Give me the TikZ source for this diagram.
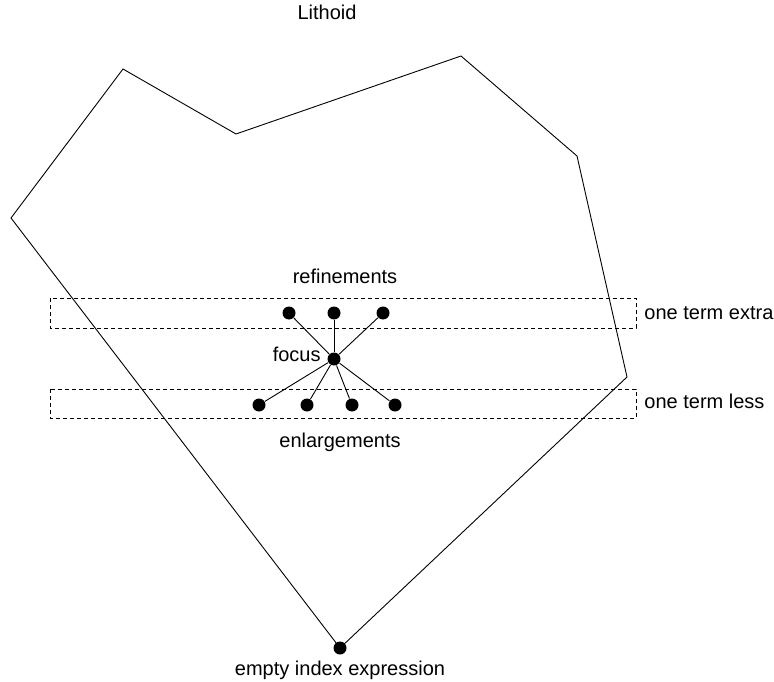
\documentclass[tikz,border=0pt]{standalone}
\usepackage{fontspec}
\setmainfont{Liberation Sans}
\tikzset{
	dot/.style = {circle, fill, inner sep = 0pt, minimum size = 13pt},
	lbl/.style = {inner sep = 0pt, font = \fontsize{20}{24}\selectfont},
	band/.style = {draw, dash pattern = on 4pt off 3pt, line width = 0.8pt}
}
\begin{document}
\begin{tikzpicture}[x = 1pt, y = -1pt, line width = 0.9pt]
		\useasboundingbox (0, 0) rectangle (774, 682);
		% bands
		\draw[band] (50, 298) rectangle (636, 328);
		\draw[band] (50, 389) rectangle (636, 418);
		% points
		\node[dot] (focus) at (334, 359) {};
		\node[dot] (r1) at (289, 313) {};
		\node[dot] (r2) at (334, 313) {};
		\node[dot] (r3) at (383, 313) {};
		\node[dot] (e1) at (259, 405) {};
		\node[dot] (e2) at (307, 405) {};
		\node[dot] (e3) at (352, 405) {};
		\node[dot] (e4) at (395, 405) {};
		\node[dot] (empty) at (340, 648) {};
		% lines
		\foreach \n in {r1, r2, r3, e1, e2, e3, e4}
			\draw (focus) -- (\n);
		\draw (empty.center) -- (627, 377) -- (577, 156) -- (461, 56) -- (236, 134)
			-- (123, 69) -- (11, 218) -- (empty.center);
		% labels
		\node[lbl, anchor = base] (lithoid) at (327, 19.5) {Lithoid};
		\node[lbl, anchor = base] (refine) at (345, 283) {refinements};
		\node[lbl, anchor = base east] (focuslbl) at (321, 361) {focus};
		\node[lbl, anchor = base] (enlarge) at (340, 447) {enlargements};
		\node[lbl, anchor = base west] (extra) at (644, 319) {one term extra};
		\node[lbl, anchor = base west] (less) at (644, 408) {one term less};
		\node[lbl, anchor = base] (emptylbl) at (340, 675) {empty index expression};
	\end{tikzpicture}
\end{document}
